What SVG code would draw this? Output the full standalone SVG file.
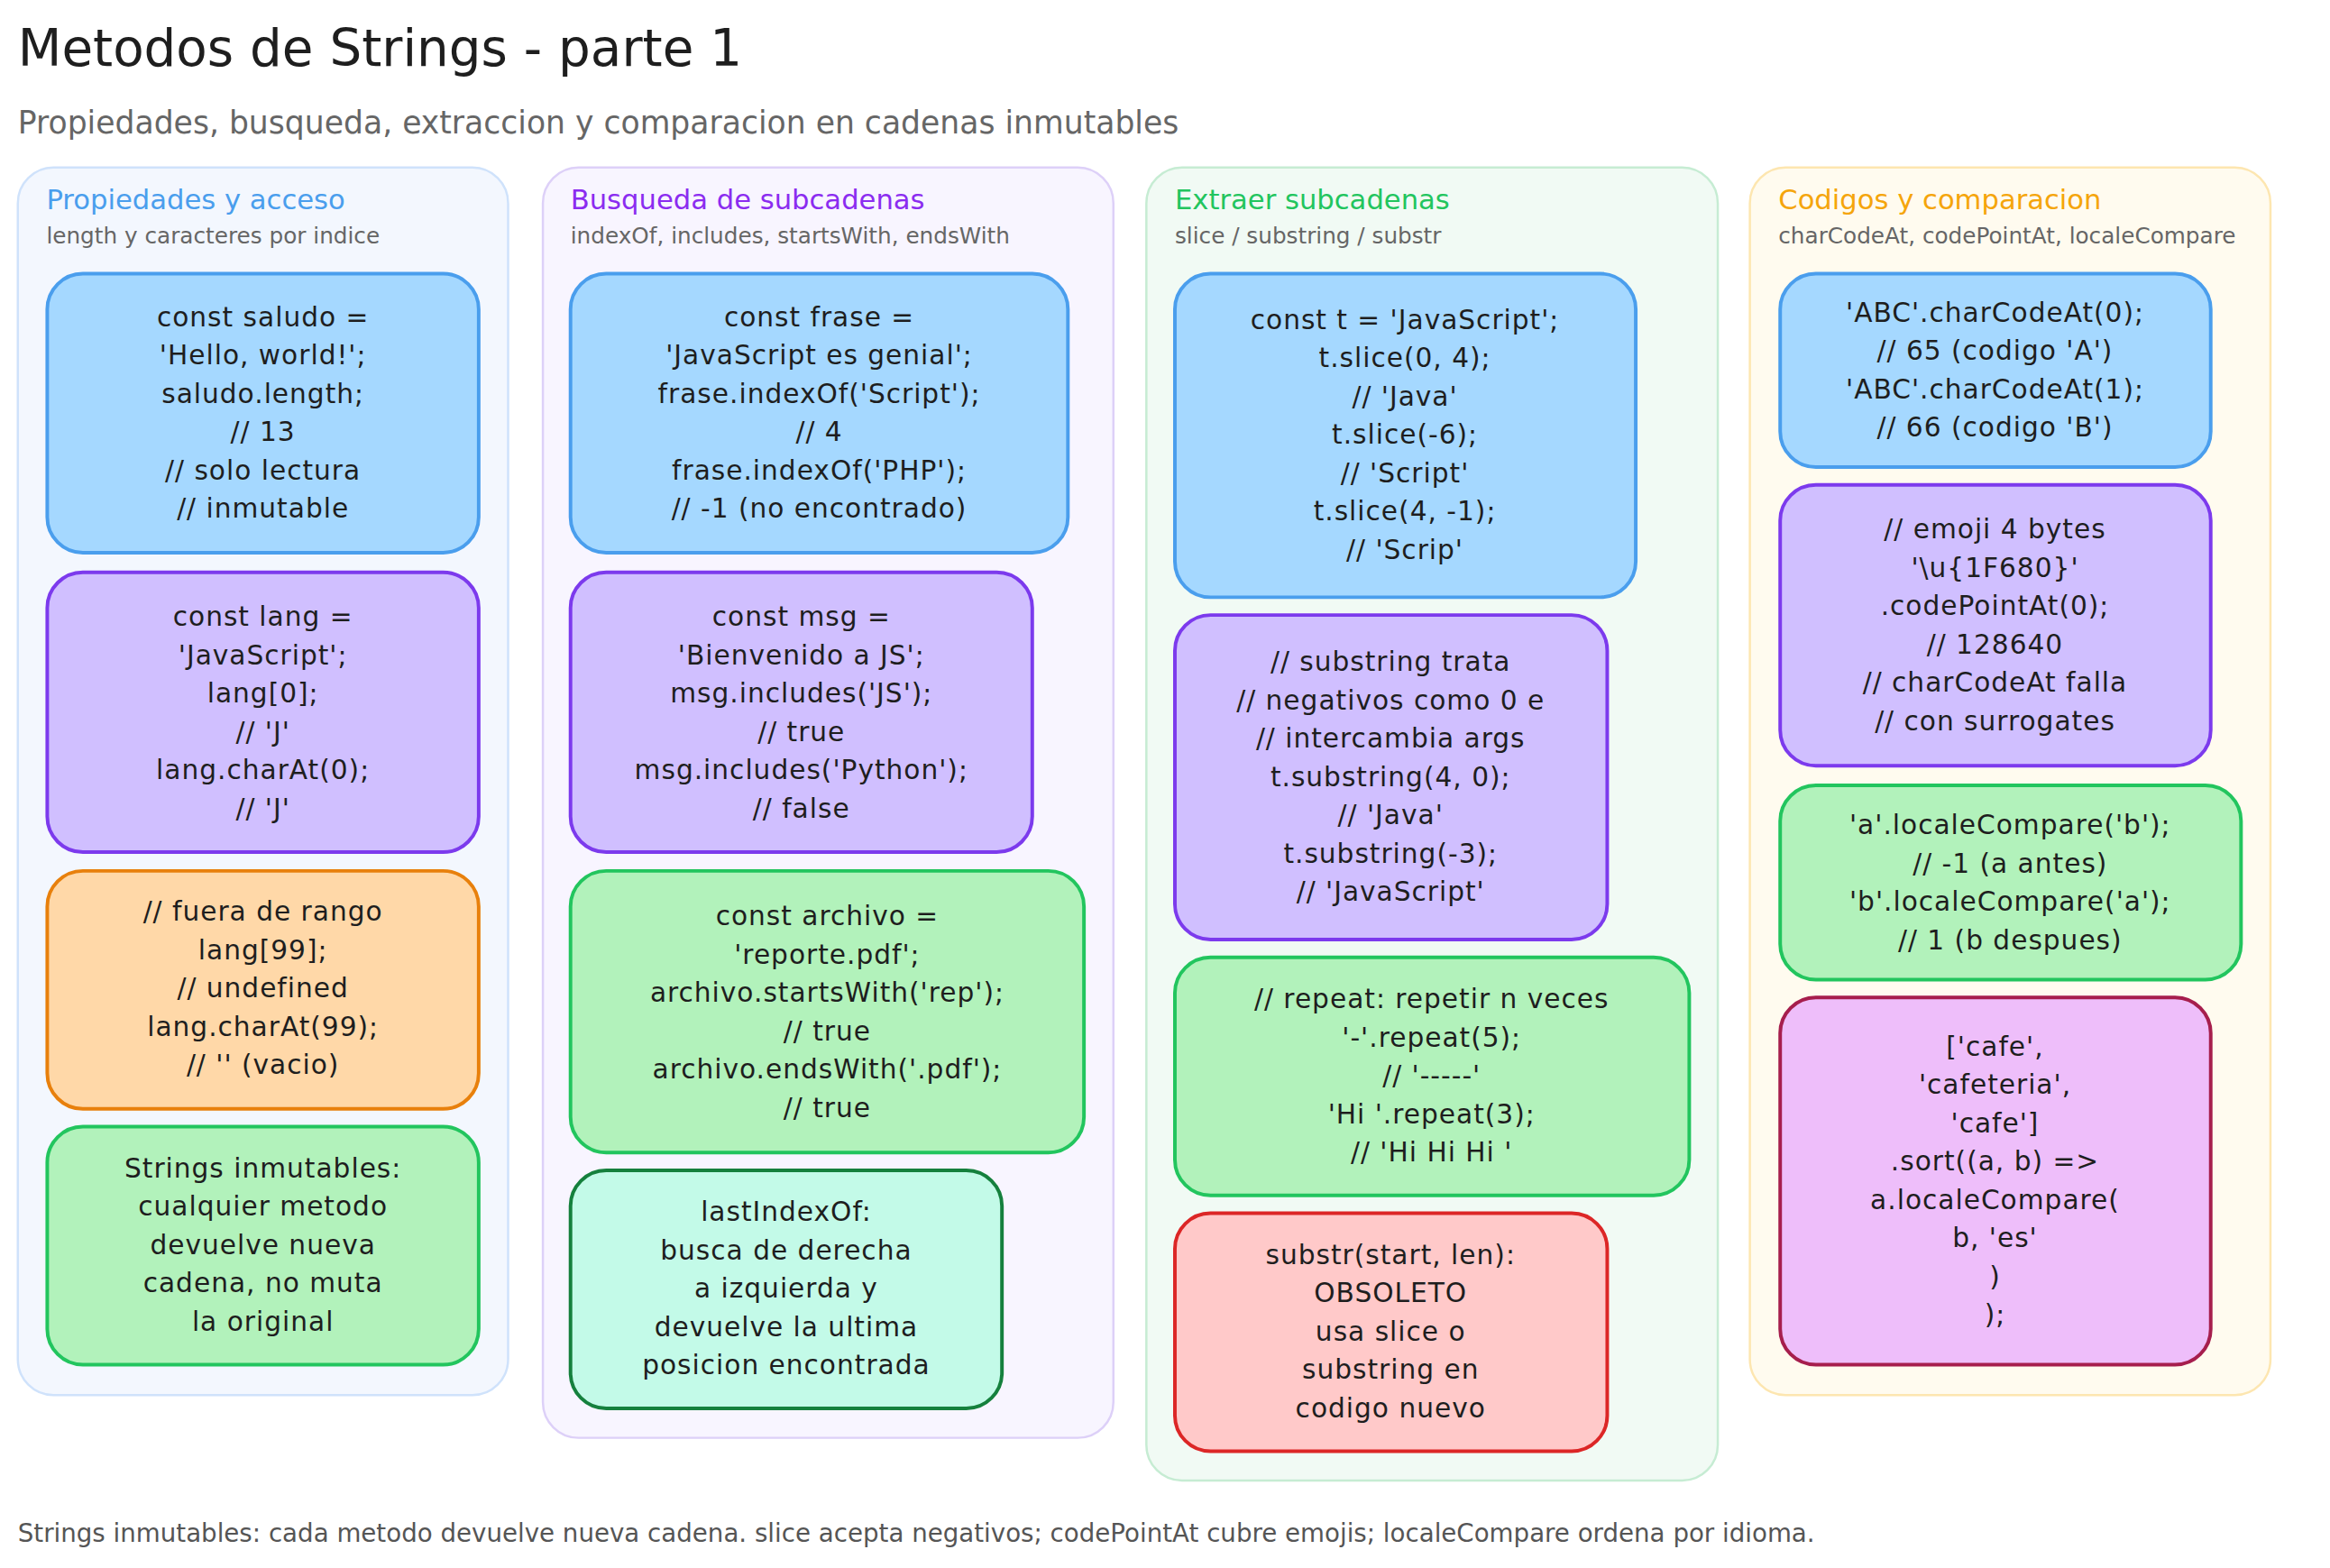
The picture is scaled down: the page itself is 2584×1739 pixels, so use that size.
<svg xmlns="http://www.w3.org/2000/svg" width="2584" height="1739" viewBox="0 0 2584 1739">
<style>
text{font-family:"DejaVu Sans","Liberation Sans",sans-serif}
.t{font-size:30px;fill:#1e1e1e;text-anchor:middle;letter-spacing:1px}
.col{stroke-width:2.5}
.n{stroke-width:4}
.blue{fill:#a5d8ff;stroke:#4a9eed}
.purple{fill:#d0bfff;stroke:#7c3aed}
.orange{fill:#ffd8a8;stroke:#e8800c}
.green{fill:#b2f2bb;stroke:#22c55e}
.teal{fill:#c3fae8;stroke:#15803d}
.red{fill:#ffc9c9;stroke:#dc2626}
.pink{fill:#eebefa;stroke:#a61e4d}
.h{font-size:31px}
.s{font-size:25px;fill:#666}
</style>
<rect width="2584" height="1739" fill="#ffffff"/>
<g transform="scale(0.9886)">
<text x="20" y="74" font-size="57" fill="#1e1e1e">Metodos de Strings - parte 1</text>
<text x="20" y="150" font-size="35" fill="#666">Propiedades, busqueda, extraccion y comparacion en cadenas inmutables</text>

<g id="col1"><rect class="col" x="20" y="188" width="550" height="1377" rx="40" fill="#f3f7fe" stroke="#cfe2fb"/>
<text x="52" y="235" class="h" fill="#4a9eed">Propiedades y acceso</text><text x="52" y="273" class="s">length y caracteres por indice</text></g>
<g id="col2"><rect class="col" x="609" y="188" width="640" height="1425" rx="40" fill="#f8f5ff" stroke="#ddd0f8"/>
<text x="640" y="235" class="h" fill="#8b2cf0">Busqueda de subcadenas</text><text x="640" y="273" class="s">indexOf, includes, startsWith, endsWith</text></g>
<g id="col3"><rect class="col" x="1286" y="188" width="641" height="1473" rx="40" fill="#f1faf4" stroke="#c6ecd3"/>
<text x="1318" y="235" class="h" fill="#22c55e">Extraer subcadenas</text><text x="1318" y="273" class="s">slice / substring / substr</text></g>
<g id="col4"><rect class="col" x="1963" y="188" width="584" height="1377" rx="40" fill="#fffbef" stroke="#fde6b0"/>
<text x="1995" y="235" class="h" fill="#f5a50b">Codigos y comparacion</text><text x="1995" y="273" class="s">charCodeAt, codePointAt, localeCompare</text></g>

<g id="n1a"><rect class="n blue" x="53" y="307" width="484" height="313" rx="40"/>
<text class="t"><tspan x="295" y="366">const saludo =</tspan><tspan x="295" y="409">'Hello, world!';</tspan><tspan x="295" y="452">saludo.length;</tspan><tspan x="295" y="495">// 13</tspan><tspan x="295" y="538">// solo lectura</tspan><tspan x="295" y="581">// inmutable</tspan></text></g>
<g id="n1b"><rect class="n purple" x="53" y="642" width="484" height="314" rx="40"/>
<text class="t"><tspan x="295" y="702">const lang =</tspan><tspan x="295" y="745">'JavaScript';</tspan><tspan x="295" y="788">lang[0];</tspan><tspan x="295" y="831">// 'J'</tspan><tspan x="295" y="874">lang.charAt(0);</tspan><tspan x="295" y="917">// 'J'</tspan></text></g>
<g id="n1c"><rect class="n orange" x="53" y="977" width="484" height="267" rx="40"/>
<text class="t"><tspan x="295" y="1033">// fuera de rango</tspan><tspan x="295" y="1076">lang[99];</tspan><tspan x="295" y="1119">// undefined</tspan><tspan x="295" y="1162">lang.charAt(99);</tspan><tspan x="295" y="1205">// '' (vacio)</tspan></text></g>
<g id="n1d"><rect class="n green" x="53" y="1264" width="484" height="267" rx="40"/>
<text class="t"><tspan x="295" y="1321">Strings inmutables:</tspan><tspan x="295" y="1364">cualquier metodo</tspan><tspan x="295" y="1407">devuelve nueva</tspan><tspan x="295" y="1450">cadena, no muta</tspan><tspan x="295" y="1493">la original</tspan></text></g>

<g id="n2a"><rect class="n blue" x="640" y="307" width="558" height="313" rx="40"/>
<text class="t"><tspan x="919" y="366">const frase =</tspan><tspan x="919" y="409">'JavaScript es genial';</tspan><tspan x="919" y="452">frase.indexOf('Script');</tspan><tspan x="919" y="495">// 4</tspan><tspan x="919" y="538">frase.indexOf('PHP');</tspan><tspan x="919" y="581">// -1 (no encontrado)</tspan></text></g>
<g id="n2b"><rect class="n purple" x="640" y="642" width="518" height="314" rx="40"/>
<text class="t"><tspan x="899" y="702">const msg =</tspan><tspan x="899" y="745">'Bienvenido a JS';</tspan><tspan x="899" y="788">msg.includes('JS');</tspan><tspan x="899" y="831">// true</tspan><tspan x="899" y="874">msg.includes('Python');</tspan><tspan x="899" y="917">// false</tspan></text></g>
<g id="n2c"><rect class="n green" x="640" y="977" width="576" height="316" rx="40"/>
<text class="t"><tspan x="928" y="1038">const archivo =</tspan><tspan x="928" y="1081">'reporte.pdf';</tspan><tspan x="928" y="1124">archivo.startsWith('rep');</tspan><tspan x="928" y="1167">// true</tspan><tspan x="928" y="1210">archivo.endsWith('.pdf');</tspan><tspan x="928" y="1253">// true</tspan></text></g>
<g id="n2d"><rect class="n teal" x="640" y="1313" width="484" height="267" rx="40"/>
<text class="t"><tspan x="882" y="1370">lastIndexOf:</tspan><tspan x="882" y="1413">busca de derecha</tspan><tspan x="882" y="1456">a izquierda y</tspan><tspan x="882" y="1499">devuelve la ultima</tspan><tspan x="882" y="1542">posicion encontrada</tspan></text></g>

<g id="n3a"><rect class="n blue" x="1318" y="307" width="517" height="363" rx="40"/>
<text class="t"><tspan x="1576" y="369">const t = 'JavaScript';</tspan><tspan x="1576" y="412">t.slice(0, 4);</tspan><tspan x="1576" y="455">// 'Java'</tspan><tspan x="1576" y="498">t.slice(-6);</tspan><tspan x="1576" y="541">// 'Script'</tspan><tspan x="1576" y="584">t.slice(4, -1);</tspan><tspan x="1576" y="627">// 'Scrip'</tspan></text></g>
<g id="n3b"><rect class="n purple" x="1318" y="690" width="485" height="364" rx="40"/>
<text class="t"><tspan x="1560" y="753">// substring trata</tspan><tspan x="1560" y="796">// negativos como 0 e</tspan><tspan x="1560" y="839">// intercambia args</tspan><tspan x="1560" y="882">t.substring(4, 0);</tspan><tspan x="1560" y="925">// 'Java'</tspan><tspan x="1560" y="968">t.substring(-3);</tspan><tspan x="1560" y="1011">// 'JavaScript'</tspan></text></g>
<g id="n3c"><rect class="n green" x="1318" y="1074" width="577" height="267" rx="40"/>
<text class="t"><tspan x="1606" y="1131">// repeat: repetir n veces</tspan><tspan x="1606" y="1174">'-'.repeat(5);</tspan><tspan x="1606" y="1217">// '-----'</tspan><tspan x="1606" y="1260">'Hi '.repeat(3);</tspan><tspan x="1606" y="1303">// 'Hi Hi Hi '</tspan></text></g>
<g id="n3d"><rect class="n red" x="1318" y="1361" width="485" height="267" rx="40"/>
<text class="t"><tspan x="1560" y="1418">substr(start, len):</tspan><tspan x="1560" y="1461">OBSOLETO</tspan><tspan x="1560" y="1504">usa slice o</tspan><tspan x="1560" y="1547">substring en</tspan><tspan x="1560" y="1590">codigo nuevo</tspan></text></g>

<g id="n4a"><rect class="n blue" x="1997" y="307" width="483" height="217" rx="40"/>
<text class="t"><tspan x="2238" y="361">'ABC'.charCodeAt(0);</tspan><tspan x="2238" y="404">// 65 (codigo 'A')</tspan><tspan x="2238" y="447">'ABC'.charCodeAt(1);</tspan><tspan x="2238" y="490">// 66 (codigo 'B')</tspan></text></g>
<g id="n4b"><rect class="n purple" x="1997" y="544" width="483" height="315" rx="40"/>
<text class="t"><tspan x="2238" y="604">// emoji 4 bytes</tspan><tspan x="2238" y="647">'\u{1F680}'</tspan><tspan x="2238" y="690">.codePointAt(0);</tspan><tspan x="2238" y="733">// 128640</tspan><tspan x="2238" y="776">// charCodeAt falla</tspan><tspan x="2238" y="819">// con surrogates</tspan></text></g>
<g id="n4c"><rect class="n green" x="1997" y="881" width="517" height="218" rx="40"/>
<text class="t"><tspan x="2255" y="936">'a'.localeCompare('b');</tspan><tspan x="2255" y="979">// -1 (a antes)</tspan><tspan x="2255" y="1022">'b'.localeCompare('a');</tspan><tspan x="2255" y="1065">// 1 (b despues)</tspan></text></g>
<g id="n4d"><rect class="n pink" x="1997" y="1119" width="483" height="412" rx="40"/>
<text class="t"><tspan x="2238" y="1184">['cafe',</tspan><tspan x="2238" y="1227">'cafeteria',</tspan><tspan x="2238" y="1270">'cafe']</tspan><tspan x="2238" y="1313">.sort((a, b) =&gt;</tspan><tspan x="2238" y="1356">a.localeCompare(</tspan><tspan x="2238" y="1399">b, 'es'</tspan><tspan x="2238" y="1442">)</tspan><tspan x="2238" y="1485">);</tspan></text></g>

<g id="connectors"></g>
<text x="20" y="1730" font-size="28" fill="#555">Strings inmutables: cada metodo devuelve nueva cadena. slice acepta negativos; codePointAt cubre emojis; localeCompare ordena por idioma.</text>
</g>
</svg>
